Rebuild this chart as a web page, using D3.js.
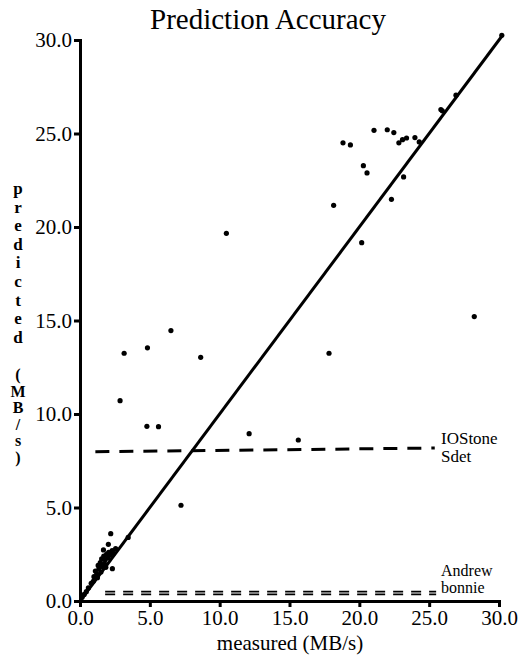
<!DOCTYPE html>
<html>
<head>
<meta charset="utf-8">
<script src="https://cdn.jsdelivr.net/npm/d3@7"></script>
<style>
    body { margin: 0; background: #fff; }
    text { font-family: "Liberation Serif", "DejaVu Serif", serif; fill: #000; }
    .axis path, .axis line { stroke: #000; }
</style>
</head>
<body>
<div id="chart"></div>
<script>
// measured (MB/s) vs predicted (MB/s)
var measured = [
    0.15, 0.3, 0.45, 0.6, 0.8, 0.95, 1.0, 1.1, 1.2, 1.25, 1.3, 1.35, 1.45, 1.5, 1.55, 1.6,
    1.68, 1.7, 1.75, 1.8, 1.85, 1.9, 2.0, 2.03, 2.05, 2.15, 2.2, 2.3, 2.32, 2.4, 2.55, 3.45,
    2.87, 3.16, 4.79, 4.83, 5.62, 6.51, 7.23, 8.64, 10.48, 12.11, 15.63, 17.83,
    18.16, 18.83, 19.36, 20.17, 20.29, 20.55, 21.05, 22.0, 22.3, 22.47, 22.83, 23.09,
    23.17, 23.38, 23.98, 24.29, 25.84, 25.94, 26.92, 28.23, 30.2
];
var predicted = [
    0.2, 0.35, 0.5, 0.7, 0.95, 1.05, 1.3, 1.6, 1.45, 1.25, 1.9, 1.7, 2.05, 1.55, 2.25, 1.85,
    2.73, 2.4, 2.0, 2.2, 1.8, 2.5, 2.3, 3.03, 2.6, 2.45, 3.6, 2.7, 1.73, 2.55, 2.8, 3.4,
    10.71, 13.25, 9.34, 13.54, 9.32, 14.46, 5.12, 13.03, 19.66, 8.95, 8.61, 13.25,
    21.16, 24.5, 24.39, 19.16, 23.28, 22.89, 25.17, 25.2, 21.48, 25.05, 24.5, 24.67,
    22.68, 24.76, 24.78, 24.55, 26.28, 26.21, 27.05, 15.21, 30.25
];

// benchmark prediction lines: [start x, end x, start y, end y]
var ioLine = [1.1, 25.4, 7.98, 8.18];
var andrewLine = [1.8, 25.5, 0.5, 0.5];
var bonnieLine = [1.8, 25.5, 0.35, 0.35];
var ioLabels = ["IOStone", "Sdet"];
var smallLabels = ["Andrew", "bonnie"];

var tickValues = [0, 5, 10, 15, 20, 25, 30];

var width = 530, height = 659;
var serif = "'Liberation Serif', 'DejaVu Serif', serif";

var svg = d3.select("#chart").append("svg")
    .attr("width", width)
    .attr("height", height);

var x = d3.scaleLinear().domain([0, 30]).range([80, 499]);
var y = d3.scaleLinear().domain([0, 30]).range([601, 40]);

// 标题
svg.append("text")
    .attr("x", 268)
    .attr("y", 29)
    .attr("text-anchor", "middle")
    .style("font-size", "29px")
    .text("Prediction Accuracy");

// x 轴
var xAxis = svg.append("g")
    .attr("class", "axis")
    .attr("transform", "translate(0," + y(0) + ")")
    .call(d3.axisBottom(x).tickValues(tickValues).tickSize(6).tickPadding(3)
        .tickFormat(d3.format(".1f")));
xAxis.attr("font-family", serif);
xAxis.select(".domain").attr("stroke-width", 3);
xAxis.selectAll(".tick line").attr("stroke-width", 3);
xAxis.selectAll(".tick text").style("font-size", "21px");

// y 轴
var yAxis = svg.append("g")
    .attr("class", "axis")
    .attr("transform", "translate(" + x(0) + ",0)")
    .call(d3.axisLeft(y).tickValues(tickValues).tickSize(6).tickPadding(2)
        .tickFormat(d3.format(".1f")));
yAxis.attr("font-family", serif);
yAxis.select(".domain").attr("stroke-width", 3);
yAxis.selectAll(".tick line").attr("stroke-width", 3);
yAxis.selectAll(".tick text").style("font-size", "21px");

// 坐标轴标题
svg.append("text")
    .attr("x", 290)
    .attr("y", 650)
    .attr("text-anchor", "middle")
    .style("font-size", "21px")
    .text("measured (MB/s)");

// y label is stacked one letter per row
var yLetters = "predicted".split("");
var yUnits = "(MB/s)".split("");
svg.selectAll(".ylab1")
    .data(yLetters)
    .enter().append("text")
    .attr("class", "ylab1")
    .attr("x", 18)
    .attr("y", function (d, i) { return 194 + i * 18.6; })
    .attr("text-anchor", "middle")
    .style("font-size", "17px")
    .style("font-weight", "bold")
    .text(function (d) { return d; });
svg.selectAll(".ylab2")
    .data(yUnits)
    .enter().append("text")
    .attr("class", "ylab2")
    .attr("x", 18)
    .attr("y", function (d, i) { return 380 + i * 16.5; })
    .attr("text-anchor", "middle")
    .style("font-size", "16px")
    .style("font-weight", "bold")
    .text(function (d) { return d; });

// 对角线
svg.append("line")
    .attr("x1", x(0)).attr("y1", y(0))
    .attr("x2", x(30.2)).attr("y2", y(30.2))
    .attr("stroke", "#000")
    .attr("stroke-width", 3);

// dashed lines
function dashed(d, w, dash) {
    svg.append("line")
        .attr("x1", x(d[0])).attr("y1", y(d[2]))
        .attr("x2", x(d[1])).attr("y2", y(d[3]))
        .attr("stroke", "#000")
        .attr("stroke-width", w)
        .attr("stroke-dasharray", dash);
}
dashed(ioLine, 3, "14,10");
dashed(andrewLine, 1.8, "10,8");
dashed(bonnieLine, 1.8, "10,8");

svg.selectAll(".iolab")
    .data(ioLabels)
    .enter().append("text")
    .attr("class", "iolab")
    .attr("x", 441)
    .attr("y", function (d, i) { return 444 + i * 18; })
    .style("font-size", "17px")
    .text(function (d) { return d; });

svg.selectAll(".smlab")
    .data(smallLabels)
    .enter().append("text")
    .attr("class", "smlab")
    .attr("x", 441)
    .attr("y", function (d, i) { return 576 + i * 17; })
    .style("font-size", "16px")
    .text(function (d) { return d; });

// 数据点
svg.selectAll(".dot")
    .data(measured)
    .enter().append("circle")
    .attr("class", "dot")
    .attr("cx", function (d) { return x(d); })
    .attr("cy", function (d, i) { return y(predicted[i]); })
    .attr("r", 2.6)
    .style("fill", "#000");
</script>
</body>
</html>
